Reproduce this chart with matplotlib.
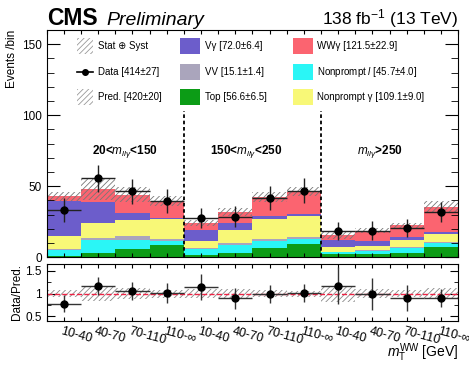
import numpy as np
import matplotlib
matplotlib.use("Agg")
import matplotlib.pyplot as plt
from matplotlib.patches import Rectangle
from matplotlib.ticker import MultipleLocator

plt.rcParams['font.family'] = ['Liberation Sans', 'DejaVu Sans']
plt.rcParams['mathtext.fontset'] = 'custom'
plt.rcParams['mathtext.rm'] = 'Liberation Sans'
plt.rcParams['mathtext.it'] = 'Liberation Sans:italic'
plt.rcParams['mathtext.bf'] = 'Liberation Sans:bold'
plt.rcParams['hatch.linewidth'] = 0.6

# mT(WW) bins, repeated for each m_llgamma region
bin_labels = ["10-40", "40-70", "70-110", "110-\u221e"] * 3
region_labels = ["20<$m_{ll\\gamma}$<150",
                 "150<$m_{ll\\gamma}$<250",
                 "$m_{ll\\gamma}$>250"]

# stacked backgrounds, bottom to top
top      = [1.0, 2.8, 5.6, 8.7, 1.6, 3.3, 6.3, 9.4, 2.3, 2.1, 3.3, 7.1]
np_lep   = [4.2, 9.4, 6.6, 2.8, 4.0, 5.4, 5.2, 3.3, 1.2, 2.6, 3.0, 2.8]
vv       = [0.8, 1.2, 2.8, 1.2, 0.7, 1.2, 1.4, 1.4, 0.5, 0.5, 0.8, 1.1]
np_gam   = [9.3, 10.6, 11.3, 14.1, 5.4, 9.4, 13.9, 15.1, 3.1, 3.0, 5.1, 5.5]
vgam     = [24.0, 14.6, 4.7, 0.7, 7.6, 4.7, 2.6, 1.4, 5.1, 3.5, 2.4, 1.6]
wwgam    = [3.5, 9.4, 13.0, 11.8, 4.7, 8.0, 13.0, 15.7, 3.8, 7.1, 8.0, 17.2]
pred_unc = [3.1, 7.8, 5.4, 3.5, 2.2, 3.0, 3.5, 3.1, 2.8, 1.7, 1.8, 4.0]

data     = [33.5, 55.6, 46.6, 39.8, 27.5, 28.7, 41.7, 46.8, 18.8, 18.6, 20.5, 31.8]
data_err = [8.3, 9.3, 8.8, 8.5, 7.0, 7.5, 8.5, 8.8, 6.4, 6.7, 6.3, 7.0]

colors = {
    "top": "#0c9c16", "np_lep": "#2af6f6", "vv": "#aaa5bc",
    "np_gam": "#f8f877", "vgam": "#6c5dcb", "wwgam": "#fb6470",
}
stack = [("top", top), ("np_lep", np_lep), ("vv", vv),
         ("np_gam", np_gam), ("vgam", vgam), ("wwgam", wwgam)]

nb = len(data)
x = np.arange(nb)
centers = x + 0.5

fig = plt.figure(figsize=(4.69, 3.66), dpi=100)
ax = fig.add_axes([0.0996, 0.297, 0.8774, 0.621])
rax = fig.add_axes([0.0996, 0.123, 0.8774, 0.156])

bottom = np.zeros(nb)
for key, vals in stack:
    vals = np.array(vals)
    ax.bar(x, vals, width=1.0, bottom=bottom, align='edge',
           color=colors[key], linewidth=0)
    bottom += vals
total = bottom
unc = np.array(pred_unc)

# prediction uncertainty band
ax.bar(x, 2 * unc, width=1.0, bottom=total - unc, align='edge', fill=False,
       hatch='//////', edgecolor='#777777', linewidth=0)

data = np.array(data)
data_err = np.array(data_err)
ax.errorbar(centers, data, yerr=data_err, xerr=0.5, fmt='o', color='black',
            markersize=5, elinewidth=1.0, ecolor='#222222', capsize=0)

# region separators
for edge in (4, 8):
    ax.plot([edge, edge], [0, 103], color='black', linestyle=(0, (2, 1.5)),
            linewidth=1.3)

# region labels sit a little off the group centres
region_x = [2.28, 5.81, 9.72]
for rx, txt in zip(region_x, region_labels):
    ax.text(rx, 74.5, txt, ha='center', va='center', fontsize=8.5,
            fontweight='bold')

ax.set_xlim(0, nb)
ax.set_ylim(0, 160)
ax.set_xticks(np.arange(0, nb + 0.5, 0.5))
ax.set_xticklabels([])
ax.yaxis.set_major_locator(MultipleLocator(50))
ax.yaxis.set_minor_locator(MultipleLocator(10))
ax.tick_params(axis='both', which='both', direction='in', top=True,
               right=True, labelsize=8.5)
ax.tick_params(axis='y', which='major', length=9.5)
ax.tick_params(axis='y', which='minor', length=4.8)
ax.tick_params(axis='x', which='major', length=3)
ax.set_ylabel("Events /bin", fontsize=8.5, loc='top', labelpad=3)

# legend, three columns of three entries
legend_cols = [
    [("hatch", "Stat \u2295 Syst"), ("data", "Data [414\u00b127]"),
     ("hatch", "Pred. [420\u00b120]")],
    [("vgam", "V\u03b3 [72.0\u00b16.4]"), ("vv", "VV [15.1\u00b11.4]"),
     ("top", "Top [56.6\u00b16.5]")],
    [("wwgam", "WW\u03b3 [121.5\u00b122.9]"),
     ("np_lep", "Nonprompt $l$ [45.7\u00b14.0]"),
     ("np_gam", "Nonprompt \u03b3 [109.1\u00b19.0]")],
]
col_x = [0.0737, 0.324, 0.598]
row_y = [0.930, 0.815, 0.705]
box_w, box_h = 0.0486, 0.070
for cx, entries in zip(col_x, legend_cols):
    for ry, (kind, label) in zip(row_y, entries):
        if kind == "hatch":
            ax.add_patch(Rectangle((cx, ry - box_h / 2), box_w * 0.8, box_h,
                                   transform=ax.transAxes, fill=False,
                                   hatch='//////', edgecolor='#999999',
                                   linewidth=0))
        elif kind == "data":
            ax.plot([cx, cx + box_w * 0.8], [ry, ry], color='black',
                    linewidth=1.2, transform=ax.transAxes)
            ax.plot([cx + box_w * 0.4], [ry], 'o', color='black',
                    markersize=4, transform=ax.transAxes)
        else:
            ax.add_patch(Rectangle((cx, ry - box_h / 2), box_w, box_h,
                                   transform=ax.transAxes,
                                   facecolor=colors[kind], linewidth=0))
        tx = cx + (box_w * 0.8 if kind in ("hatch", "data") else box_w) + 0.011
        ax.text(tx, ry, label, transform=ax.transAxes, ha='left',
                va='center', fontsize=7)

# ratio panel
rel = unc / total
rax.bar(x, 2 * rel, width=1.0, bottom=1 - rel, align='edge', fill=False,
        hatch='//////', edgecolor='#888888', linewidth=0)
rax.axhline(1.0, color='#ee2244', linestyle='--', linewidth=1.0)
rax.errorbar(centers, data / total, yerr=data_err / total, xerr=0.5,
             fmt='o', color='black', markersize=5, elinewidth=1.0,
             ecolor='#333333', capsize=0)
rax.set_xlim(0, nb)
rax.set_ylim(0.4, 1.65)
rax.set_yticks([0.5, 1.0, 1.5])
rax.set_yticklabels(["0.5", "1", "1.5"])
rax.yaxis.set_minor_locator(MultipleLocator(0.25))
rax.set_xticks(np.arange(0, nb + 0.5, 0.5))
rax.set_xticklabels([])
rax.tick_params(axis='both', which='both', direction='in', top=True,
                right=True, labelsize=8.5)
rax.tick_params(axis='y', which='major', length=5.8)
rax.tick_params(axis='y', which='minor', length=3)
rax.tick_params(axis='x', which='major', length=3)
rax.set_ylabel("Data/Pred.", fontsize=8.5, labelpad=2)

for c, lab in zip(centers, bin_labels):
    rax.text(c - 0.05, -0.08, lab, transform=rax.get_xaxis_transform(),
             ha='left', va='top', rotation=-15, rotation_mode='anchor',
             fontsize=9)

fig.text(0.977, 0.006, r"$m_{\mathrm{T}}^{\mathrm{WW}}$ [GeV]", ha='right',
         va='bottom', fontsize=10)

fig.text(0.0996, 0.932, "CMS", fontsize=16.5, fontweight='bold',
         ha='left', va='baseline')
fig.text(0.226, 0.932, "Preliminary", fontsize=14, fontstyle='italic',
         ha='left', va='baseline')
fig.text(0.977, 0.932, r"138 fb$^{-1}$ (13 TeV)", fontsize=12.5,
         ha='right', va='baseline')

fig.savefig("out.png", dpi=100)
